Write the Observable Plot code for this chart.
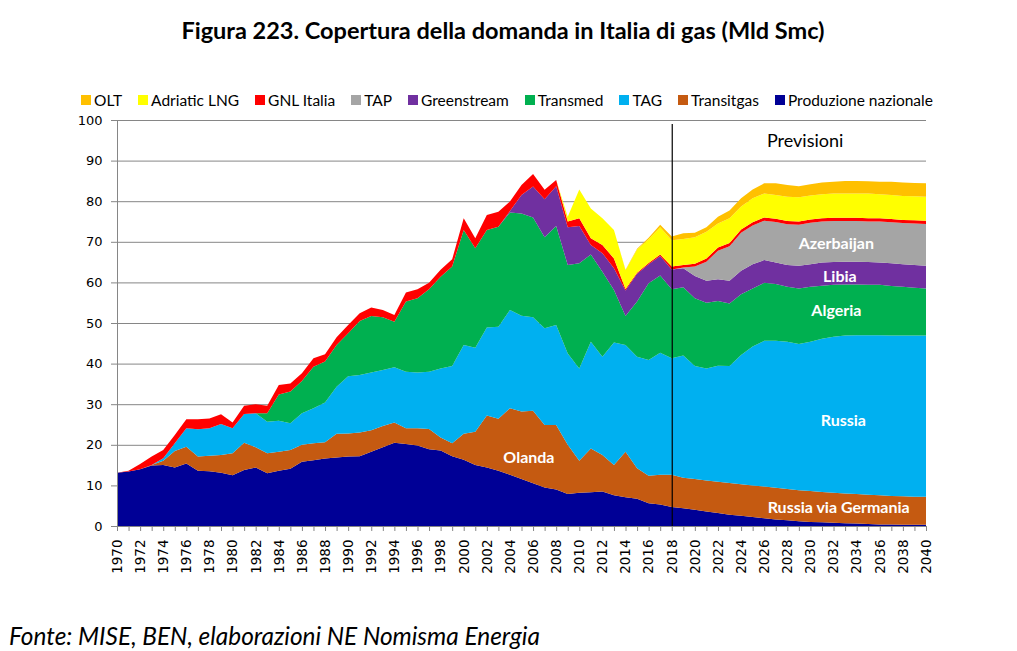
<!DOCTYPE html>
<html><head><meta charset="utf-8">
<script src="https://cdn.jsdelivr.net/npm/d3@7"></script>
<script src="https://cdn.jsdelivr.net/npm/@observablehq/plot@0.6"></script>
<style>
body{margin:0;background:#fff;}
#wrap{position:relative;width:1017px;height:651px;overflow:hidden;font-family:Lato,"Open Sans",sans-serif;color:#000;}
#chart{position:absolute;left:0;top:0;}
#title{position:absolute;left:0;top:15px;width:1006px;text-align:center;font-weight:700;font-size:23.5px;line-height:30px;}
#legend{position:absolute;left:81px;top:91px;display:flex;font-size:15.5px;line-height:18px;}
.item{display:flex;align-items:center;margin-right:16px;}
.sw{width:10px;height:10px;margin-right:3px;}
#foot{position:absolute;left:9px;top:621px;font-style:italic;font-size:24.4px;line-height:30px;}
</style></head>
<body><div id="wrap"><div id="chart"></div>
<div id="title">Figura 223. Copertura della domanda in Italia di gas (Mld Smc)</div>
<div id="legend"></div>
<div id="foot">Fonte: MISE, BEN, elaborazioni NE Nomisma Energia</div></div>
<script>
const years = d3.range(1970, 2041);
const labelYears = d3.range(1970, 2041, 2);
const yTicks = [0, 10, 20, 30, 40, 50, 60, 70, 80, 90, 100];

// Series order: bottom -> top of the stack
const seriesOrder = ["Produzione nazionale", "Transitgas", "TAG", "Transmed", "Greenstream", "TAP", "GNL Italia", "Adriatic LNG", "OLT"];
const seriesColors = ["#000096", "#C55A11", "#00B0F0", "#00B050", "#7030A0", "#A5A5A5", "#FF0000", "#FFFF00", "#FFC000"];
const legendOrder = ["OLT", "Adriatic LNG", "GNL Italia", "TAP", "Greenstream", "Transmed", "TAG", "Transitgas", "Produzione nazionale"];

// Values 1970..2040 (Mld Smc)
const produzione = [
  13.1, 13.4, 14.0, 14.9, 15.0, 14.4, 15.4, 13.6, 13.5, 13.1,
  12.5, 13.8, 14.4, 13.0, 13.6, 14.1, 15.8, 16.2, 16.6, 16.9,
  17.1, 17.2, 18.3, 19.4, 20.5, 20.2, 19.8, 18.9, 18.6, 17.2,
  16.3, 15.0, 14.4, 13.6, 12.6, 11.6, 10.5, 9.5, 9.0, 7.9,
  8.2, 8.3, 8.5, 7.6, 7.1, 6.7, 5.6, 5.3, 4.7, 4.4,
  4.0, 3.6, 3.2, 2.8, 2.5, 2.2, 1.9, 1.6, 1.4, 1.2,
  1.0, 0.9, 0.8, 0.7, 0.6, 0.5, 0.4, 0.4, 0.3, 0.3, 0.3];
const transitgas = [
  0, 0, 0, 0.1, 1.1, 4.1, 4.1, 3.5, 3.8, 4.4,
  5.4, 6.7, 5.0, 4.9, 4.7, 4.6, 4.2, 4.2, 4.0, 5.8,
  5.7, 5.8, 5.3, 5.2, 5.0, 3.9, 4.3, 5.0, 3.2, 3.2,
  6.4, 8.2, 12.8, 12.8, 16.4, 16.6, 17.9, 15.4, 15.9, 12.1,
  7.9, 10.8, 9.0, 7.4, 11.2, 7.5, 6.8, 7.3, 7.9, 7.5,
  7.6, 7.6, 7.7, 7.8, 7.8, 7.8, 7.8, 7.8, 7.7, 7.6,
  7.6, 7.5, 7.4, 7.3, 7.3, 7.2, 7.2, 7.0, 7.0, 6.9, 6.9];
const tag = [
  0, 0, 0, 0, 0.6, 1.9, 4.6, 6.7, 6.8, 7.6,
  6.2, 7.1, 8.4, 7.8, 7.6, 6.6, 7.8, 8.6, 9.8, 11.6,
  14.1, 14.2, 14.2, 13.8, 13.6, 13.9, 13.7, 14.1, 17.0, 19.0,
  21.9, 20.7, 21.7, 22.7, 24.2, 23.6, 23.0, 23.8, 24.6, 22.5,
  22.7, 26.3, 24.2, 30.2, 26.3, 27.5, 28.5, 30.1, 28.7, 30.1,
  27.8, 27.6, 28.6, 28.8, 31.8, 34.2, 35.9, 36.2, 36.3, 36.0,
  36.8, 37.7, 38.4, 38.9, 39.1, 39.3, 39.4, 39.5, 39.6, 39.7, 39.7];
const transmed = [
  0, 0, 0, 0, 0, 0, 0, 0, 0, 0,
  0, 0, 0, 2.1, 6.5, 7.8, 7.9, 10.2, 10.1, 10.3,
  10.6, 13.3, 13.9, 13.0, 11.2, 17.3, 18.3, 20.3, 22.6, 24.5,
  28.3, 24.5, 24.0, 24.6, 24.0, 25.2, 24.6, 22.4, 24.4, 21.8,
  25.9, 21.5, 20.9, 12.9, 7.1, 13.6, 18.9, 19.0, 17.0, 16.8,
  16.7, 16.2, 15.9, 15.4, 15.0, 14.3, 14.3, 14.0, 13.5, 13.7,
  13.5, 13.1, 12.8, 12.6, 12.5, 12.4, 12.4, 12.2, 12.0, 11.8, 11.6];
const greenstream = [
  0, 0, 0, 0, 0, 0, 0, 0, 0, 0,
  0, 0, 0, 0, 0, 0, 0, 0, 0, 0,
  0, 0, 0, 0, 0, 0, 0, 0, 0, 0,
  0, 0, 0, 0, 0.4, 4.5, 7.6, 9.4, 9.8, 9.3,
  9.2, 2.3, 4.6, 5.4, 6.3, 6.8, 4.7, 4.8, 4.9, 4.7,
  5.5, 5.4, 5.4, 5.6, 5.8, 6.0, 5.6, 5.3, 5.4, 5.6,
  5.6, 5.7, 5.6, 5.6, 5.6, 5.6, 5.5, 5.6, 5.6, 5.6, 5.6];
const tap = [
  0, 0, 0, 0, 0, 0, 0, 0, 0, 0,
  0, 0, 0, 0, 0, 0, 0, 0, 0, 0,
  0, 0, 0, 0, 0, 0, 0, 0, 0, 0,
  0, 0, 0, 0, 0, 0, 0, 0, 0, 0,
  0, 0, 0, 0, 0, 0, 0, 0, 0, 0.2,
  2.3, 4.7, 7.0, 8.5, 9.3, 9.5, 9.7, 10.0, 10.0, 10.1,
  10.2, 10.1, 10.1, 10.0, 10.0, 10.0, 10.1, 10.1, 10.1, 10.2, 10.3];
const gnlItalia = [
  0, 0.2, 1.3, 2.1, 2.0, 2.0, 2.2, 2.5, 2.4, 2.4,
  1.4, 2.0, 2.2, 1.8, 2.3, 2.0, 1.9, 2.1, 1.8, 1.9,
  2.0, 1.9, 2.1, 1.8, 1.7, 2.2, 2.2, 1.6, 1.7, 1.8,
  2.9, 2.5, 3.7, 3.7, 2.3, 2.5, 3.1, 2.3, 1.5, 1.4,
  1.9, 1.7, 2.0, 2.4, 0.4, 0.3, 0.3, 0.4, 0.7, 0.6,
  0.7, 0.8, 0.8, 0.8, 0.8, 0.8, 0.8, 0.8, 0.8, 0.8,
  0.8, 0.8, 0.8, 0.8, 0.8, 0.8, 0.8, 0.8, 0.8, 0.8, 0.8];
const adriaticLng = [
  0, 0, 0, 0, 0, 0, 0, 0, 0, 0,
  0, 0, 0, 0, 0, 0, 0, 0, 0, 0,
  0, 0, 0, 0, 0, 0, 0, 0, 0, 0,
  0, 0, 0, 0, 0, 0, 0, 0, 0, 1.2,
  7.1, 7.3, 6.6, 7.0, 4.6, 5.7, 5.8, 6.7, 6.5, 6.4,
  6.5, 6.6, 5.9, 6.1, 5.7, 5.9, 5.9, 5.8, 6.0, 6.0,
  5.9, 5.9, 6.0, 6.0, 6.0, 6.1, 5.9, 5.9, 5.9, 5.9, 5.9];
const olt = [
  0, 0, 0, 0, 0, 0, 0, 0, 0, 0,
  0, 0, 0, 0, 0, 0, 0, 0, 0, 0,
  0, 0, 0, 0, 0, 0, 0, 0, 0, 0,
  0, 0, 0, 0, 0, 0, 0, 0, 0, 0,
  0, 0, 0, 0, 0.1, 0.2, 0.4, 0.6, 0.9, 1.4,
  1.1, 1.1, 1.7, 1.9, 2.0, 2.2, 2.5, 2.9, 2.9, 2.7,
  2.8, 2.9, 2.9, 3.1, 3.1, 3.0, 3.1, 3.3, 3.3, 3.3, 3.3];

const seriesValues = [produzione, transitgas, tag, transmed, greenstream, tap, gnlItalia, adriaticLng, olt];

// Annotations
const forecastStart = [2018];
const annoText = ["Olanda", "Russia via Germania", "Russia", "Algeria", "Libia", "Azerbaijan"];
const annoYear = [2005.6, 2032.4, 2032.8, 2032.2, 2032.5, 2032.2];
const annoValue = [17.0, 4.6, 26.1, 53.2, 61.4, 69.5];
const previsioni = {text: "Previsioni", year: 2029.5, value: 94.8};

const rows = [];
seriesOrder.forEach((s, i) => years.forEach((yr, j) => rows.push({series: s, year: yr, value: seriesValues[i][j]})));
const annos = annoText.map((t, i) => ({text: t, year: annoYear[i], value: annoValue[i]}));

const chart = Plot.plot({
  width: 1017, height: 600,
  marginTop: 120, marginBottom: 74, marginLeft: 117, marginRight: 91,
  style: {fontFamily: "'DejaVu Sans', sans-serif", fontSize: "13px", color: "#000", background: "transparent"},
  x: {domain: [1970, 2040], label: null},
  y: {domain: [0, 100], label: null},
  color: {domain: seriesOrder, range: seriesColors},
  marks: [
    Plot.gridY(yTicks, {stroke: "#868686", strokeOpacity: 1}),
    Plot.areaY(rows, {x: "year", y: "value", z: "series", fill: "series", order: seriesOrder, curve: "linear"}),
    Plot.ruleX(forecastStart, {y1: 0, y2: 99, stroke: "#000", strokeWidth: 1.2}),
    Plot.ruleY([0], {stroke: "#868686"}),
    Plot.ruleX([1970], {stroke: "#868686"}),
    Plot.axisY({ticks: yTicks, tickSize: 6, tickPadding: 9, stroke: "#868686", fill: "#000", fontSize: 13, label: null}),
    Plot.axisX({ticks: years, tickSize: 5, tickFormat: () => "", stroke: "#868686", label: null}),
    Plot.axisX({ticks: labelYears, tickSize: 0, tickPadding: 13, tickRotate: -90, tickFormat: d => String(d), fill: "#000", fontSize: 13.5, label: null}),
    Plot.text([previsioni], {x: "year", y: "value", text: "text", fontSize: 18, fill: "#000", fontFamily: "Lato"}),
    Plot.text(annos, {x: "year", y: "value", text: "text", fontSize: 16, fontWeight: "bold", fill: "#fff", fontFamily: "Lato"})
  ]
});
document.getElementById("chart").appendChild(chart);

const legend = document.getElementById("legend");
legendOrder.forEach(name => {
  const item = document.createElement("div");
  item.className = "item";
  const sw = document.createElement("div");
  sw.className = "sw";
  sw.style.background = seriesColors[seriesOrder.indexOf(name)];
  const lab = document.createElement("span");
  lab.textContent = name;
  item.appendChild(sw); item.appendChild(lab);
  legend.appendChild(item);
});
</script>
</body></html>
